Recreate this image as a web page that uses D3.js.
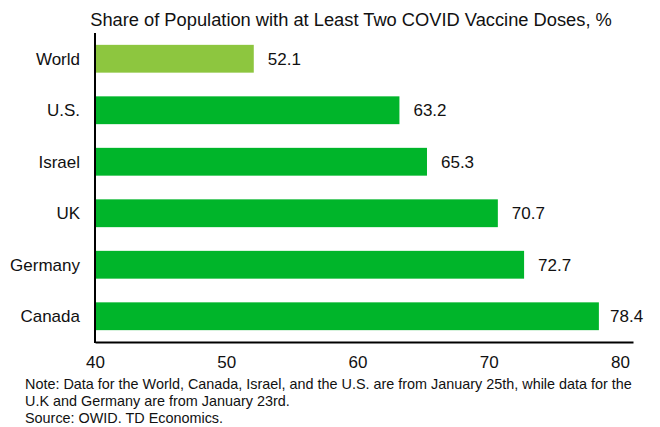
<!DOCTYPE html>
<html><head><meta charset="utf-8">
<script src="https://cdn.jsdelivr.net/npm/d3@7"></script>
<style>body{margin:0;background:#fff;} svg{display:block;font-family:"Liberation Sans",Arial,sans-serif;}</style>
</head><body>
<svg id="c" width="660" height="427"></svg>
<script>
const categories = ["World","U.S.","Israel","UK","Germany","Canada"];
const values = [52.1,63.2,65.3,70.7,72.7,78.4];
const tickValues = [40,50,60,70,80];
const titleText = "Share of Population with at Least Two COVID Vaccine Doses, %";
const noteLines = ["Note: Data for the World, Canada, Israel, and the U.S. are from January 25th, while data for the",
  "U.K and Germany are from January 23rd.",
  "Source: OWID. TD Economics."];

const svg = d3.select("#c");
const x = d3.scaleLinear().domain([40,81]).range([95,633]);
const y = d3.scaleBand().domain(categories).range([33,342]).paddingInner(0.46).paddingOuter(0.23);

svg.append("text").attr("x",351).attr("y",26).attr("text-anchor","middle")
  .attr("font-size",18.3).attr("fill","#111").text(titleText);

svg.selectAll("rect.bar").data(categories).enter().append("rect")
  .attr("x",x(40)).attr("y",d=>y(d)).attr("height",y.bandwidth())
  .attr("width",(d,i)=>x(values[i])-x(40))
  .attr("fill",(d,i)=>i===0?"#8DC63F":"#00B52A");

svg.selectAll("text.val").data(categories).enter().append("text")
  .attr("x",(d,i)=>Math.min(x(values[i])+14,610)).attr("y",d=>y(d)+y.bandwidth()/2)
  .attr("dy","0.36em").attr("font-size",17).attr("fill","#111")
  .text((d,i)=>values[i].toFixed(1));

svg.selectAll("text.cat").data(categories).enter().append("text")
  .attr("x",80).attr("y",d=>y(d)+y.bandwidth()/2).attr("dy","0.36em")
  .attr("text-anchor","end").attr("font-size",17).attr("fill","#111").text(d=>d);

const xAxis = svg.append("g").attr("transform","translate(0,342)")
  .call(d3.axisBottom(x).tickValues(tickValues).tickSize(0).tickPadding(14));
xAxis.select(".domain").attr("stroke","#000").attr("stroke-width",2);
xAxis.selectAll("text").attr("font-size",17).attr("fill","#111").attr("font-family","Liberation Sans, Arial, sans-serif");

svg.append("line").attr("x1",95).attr("x2",95).attr("y1",33).attr("y2",343)
  .attr("stroke","#000").attr("stroke-width",2);

svg.selectAll("text.note").data(noteLines).enter().append("text")
  .attr("x",25).attr("y",(d,i)=>389+i*17).attr("font-size",14.4).attr("fill","#111").text(d=>d);
</script>
</body></html>
